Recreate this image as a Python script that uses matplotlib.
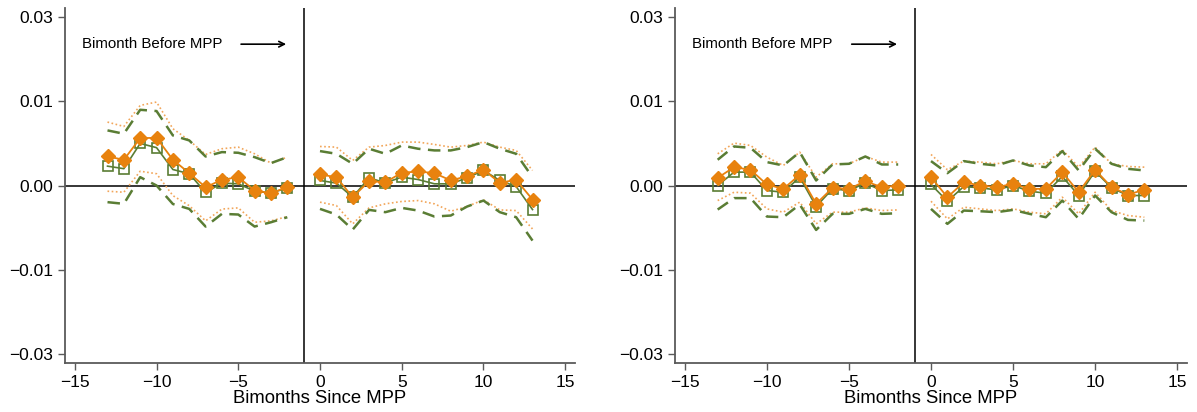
import matplotlib
matplotlib.use("Agg")
import matplotlib.pyplot as plt
import numpy as np

plt.rcParams['font.family'] = ['Liberation Sans', 'DejaVu Sans']

pre_x = [-13, -12, -11, -10, -9, -8, -7, -6, -5, -4, -3, -2]
post_x = [0, 1, 2, 3, 4, 5, 6, 7, 8, 9, 10, 11, 12, 13]

# ---- Left panel ----
L_orange_pre = [0.00345, 0.00306, 0.00563, 0.00567, 0.00306, 0.00147, -0.0002, 0.00068, 0.00099, -0.0006, -0.00091, -0.0002]
L_green_pre = [0.0023, 0.0020, 0.0050, 0.0045, 0.0019, 0.0014, -0.00083, 0.00028, 0.0002, -0.00067, -0.0009, -0.00028]
L_gup_pre = [0.00655, 0.00615, 0.0090, 0.00885, 0.00595, 0.00536, 0.00345, 0.00397, 0.00389, 0.00337, 0.00266, 0.00337]
L_glo_pre = [-0.00198, -0.00218, 0.00099, 0.0, -0.0022, -0.00278, -0.00488, -0.00337, -0.00345, -0.00488, -0.00437, -0.00377]
L_oup_pre = [0.00754, 0.00702, 0.00952, 0.00992, 0.00675, 0.00536, 0.00369, 0.00437, 0.00456, 0.00377, 0.00266, 0.00337]
L_olo_pre = [-0.00068, -0.0008, 0.0017, 0.0014, -0.0012, -0.0024, -0.0042, -0.0028, -0.00266, -0.00437, -0.0042, -0.0037]

L_orange_post = [0.00131, 0.00099, -0.00139, 0.00051, 0.00039, 0.00151, 0.00167, 0.00147, 0.0006, 0.00111, 0.00187, 0.00032, 0.00068, -0.00167]
L_green_post = [0.0006, 0.00028, -0.00139, 0.00091, 0.00032, 0.00099, 0.00071, 0.0002, 0.0002, 0.00091, 0.00179, 0.0006, -0.00012, -0.00286]
L_gup_post = [0.00409, 0.00377, 0.00258, 0.00437, 0.00377, 0.00476, 0.00437, 0.00417, 0.00417, 0.00456, 0.00516, 0.00437, 0.00377, 0.00099]
L_glo_post = [-0.00278, -0.00345, -0.00524, -0.0029, -0.00317, -0.00266, -0.00298, -0.00369, -0.00357, -0.0025, -0.00179, -0.00317, -0.00377, -0.00655]
L_oup_post = [0.00464, 0.00456, 0.00298, 0.00456, 0.00476, 0.00516, 0.00516, 0.00488, 0.00456, 0.00476, 0.00516, 0.00456, 0.00417, 0.00179]
L_olo_post = [-0.00198, -0.00238, -0.00456, -0.00266, -0.00218, -0.0019, -0.00179, -0.00218, -0.00306, -0.0025, -0.0017, -0.0029, -0.00298, -0.00516]

# ---- Right panel ----
R_orange_pre = [0.00091, 0.00218, 0.00187, 0.00012, -0.0004, 0.00127, -0.00218, -0.00028, -0.0004, 0.00051, -0.0002, 0.0]
R_green_pre = [0.0, 0.00159, 0.00159, -0.0006, -0.0008, 0.00099, -0.0025, -0.0004, -0.0006, 0.00028, -0.0006, -0.00052]
R_gup_pre = [0.00306, 0.00464, 0.00448, 0.00278, 0.00238, 0.00397, 0.0006, 0.0025, 0.00258, 0.00345, 0.0025, 0.0025]
R_glo_pre = [-0.00286, -0.0015, -0.0015, -0.00369, -0.00377, -0.00226, -0.00528, -0.00337, -0.00337, -0.00278, -0.00337, -0.0033]
R_oup_pre = [0.00377, 0.00504, 0.00476, 0.00337, 0.00238, 0.00397, 0.00099, 0.00258, 0.00258, 0.00345, 0.00278, 0.00278]
R_olo_pre = [-0.00179, -0.0008, -0.00091, -0.00278, -0.00317, -0.00198, -0.00456, -0.00317, -0.00317, -0.00266, -0.00298, -0.0029]

R_orange_post = [0.00099, -0.00139, 0.00039, 0.0, -0.0002, 0.0002, -0.0004, -0.0004, 0.00159, -0.0008, 0.00187, -0.0002, -0.00107, -0.00052]
R_green_post = [0.00012, -0.00187, -0.00012, -0.00028, -0.00052, 0.0, -0.00068, -0.00091, 0.00107, -0.00119, 0.0017, -0.00028, -0.00119, -0.00119]
R_gup_post = [0.0029, 0.00147, 0.0029, 0.00258, 0.00238, 0.00298, 0.00238, 0.00218, 0.00409, 0.00179, 0.00437, 0.00258, 0.00198, 0.00179]
R_glo_post = [-0.00278, -0.00456, -0.00298, -0.00306, -0.00317, -0.0029, -0.00337, -0.00377, -0.00179, -0.00397, -0.00119, -0.00317, -0.00409, -0.00417]
R_oup_post = [0.00369, 0.00187, 0.0029, 0.00278, 0.00258, 0.00298, 0.00258, 0.00258, 0.00425, 0.00218, 0.00456, 0.00258, 0.00226, 0.00218]
R_olo_post = [-0.00187, -0.00397, -0.00258, -0.00278, -0.00298, -0.00278, -0.00317, -0.00337, -0.00139, -0.00337, -0.0008, -0.00298, -0.00357, -0.00377]

ytick_vals = [0.02, 0.01, 0.0, -0.01, -0.02]
ytick_labels = ['0.03', '0.01', '0.00', '\u22120.01', '\u22120.03']
xtick_vals = [-15, -10, -5, 0, 5, 10, 15]
xtick_labels = ['\u221215', '\u221210', '\u22125', '0', '5', '10', '15']

ORANGE = '#E8820E'
ORANGE_LIGHT = '#F2A65A'
GREEN = '#5A7D34'
SPINE = '#5a5a5a'

fig = plt.figure(figsize=(11.97, 4.12), dpi=100)
ax1 = fig.add_axes([65/1197, 1-363/412, 510/1197, 355/412])
ax2 = fig.add_axes([675/1197, 1-363/412, 512/1197, 355/412])

panels = [
    (ax1, (L_orange_pre, L_green_pre, L_gup_pre, L_glo_pre, L_oup_pre, L_olo_pre),
          (L_orange_post, L_green_post, L_gup_post, L_glo_post, L_oup_post, L_olo_post)),
    (ax2, (R_orange_pre, R_green_pre, R_gup_pre, R_glo_pre, R_oup_pre, R_olo_pre),
          (R_orange_post, R_green_post, R_gup_post, R_glo_post, R_oup_post, R_olo_post)),
]

for ax, pre, post in panels:
    ax.axhline(0, color='black', lw=1.1, zorder=1)
    ax.axvline(-1, color='black', lw=1.1, zorder=1)
    for xs, (o, g, gu, gl, ou, ol) in [(pre_x, pre), (post_x, post)]:
        ax.plot(xs, ou, color=ORANGE_LIGHT, lw=1.2, ls=(0, (1, 1.5)), zorder=2)
        ax.plot(xs, ol, color=ORANGE_LIGHT, lw=1.2, ls=(0, (1, 1.5)), zorder=2)
        ax.plot(xs, gu, color=GREEN, lw=1.8, ls=(0, (5, 3)), zorder=3)
        ax.plot(xs, gl, color=GREEN, lw=1.8, ls=(0, (5, 3)), zorder=3)
        ax.plot(xs, g, color=GREEN, lw=1.2, marker='s', ms=6.5, mfc='none',
                mec=GREEN, mew=1.2, zorder=4)
        ax.plot(xs, o, color=ORANGE, lw=1.3, marker='D', ms=7, mfc=ORANGE,
                mec=ORANGE, zorder=5)
    ax.set_xlim(-15.6, 15.6)
    ax.set_ylim(-0.0211, 0.0211)
    ax.set_yticks(ytick_vals)
    ax.set_yticklabels(ytick_labels)
    ax.set_xticks(xtick_vals)
    ax.set_xticklabels(xtick_labels)
    ax.tick_params(axis='both', labelsize=12.5, color=SPINE, length=5, width=1)
    for s in ['top', 'right']:
        ax.spines[s].set_visible(False)
    for s in ['left', 'bottom']:
        ax.spines[s].set_color(SPINE)
        ax.spines[s].set_linewidth(1.3)
    ax.set_xlabel('Bimonths Since MPP', fontsize=13.3, labelpad=0)
    ax.text(-14.55, 0.0168, 'Bimonth Before MPP', fontsize=10.8, va='center', ha='left')
    ax.annotate('', xy=(-1.9, 0.0168), xytext=(-5.0, 0.0168),
                arrowprops=dict(arrowstyle='->', color='black', lw=1.2))

fig.savefig('out.png', dpi=100)
